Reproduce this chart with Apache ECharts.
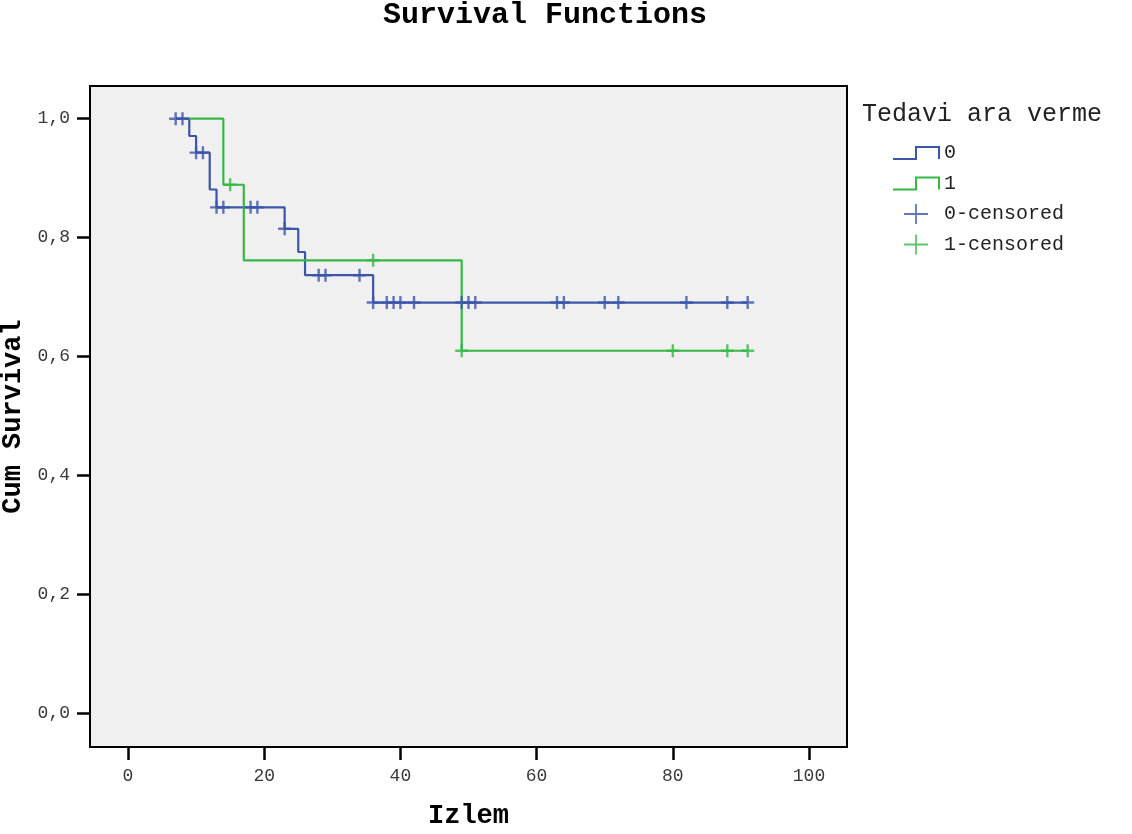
<!DOCTYPE html>
<html>
<head>
<meta charset="utf-8">
<title>Survival Functions</title>
<script src="https://cdn.jsdelivr.net/npm/echarts@6/dist/echarts.min.js"></script>
<style>
  html, body { margin: 0; padding: 0; background: #ffffff; }
  #chart { width: 1132px; height: 834px; }
</style>
</head>
<body>
<div id="chart"></div>
<script>
// Kaplan-Meier steps: time (Izlem) and cumulative survival for each group
const group0Times = [7, 9, 10, 12, 13, 23, 25, 26, 36, 91];
const group0Surv  = [1.0, 0.971, 0.943, 0.881, 0.851, 0.815, 0.776, 0.737, 0.691, 0.691];
const group1Times = [9, 14, 17, 49, 91];
const group1Surv  = [1.0, 0.889, 0.762, 0.610, 0.610];

// Censored observations (time, survival level at that time)
const censor0Times = [7, 8, 10, 11, 13, 14, 18, 19, 23, 28, 29, 34, 36, 38, 39, 40, 42, 49, 50, 51, 63, 64, 70, 72, 82, 88, 91];
const censor0Surv  = [1.0, 1.0, 0.943, 0.943, 0.851, 0.851, 0.851, 0.851, 0.815, 0.737, 0.737, 0.737,
                      0.691, 0.691, 0.691, 0.691, 0.691, 0.691, 0.691, 0.691, 0.691, 0.691, 0.691, 0.691, 0.691, 0.691, 0.691];
const censor1Times = [15, 36, 49, 80, 88, 91];
const censor1Surv  = [0.889, 0.762, 0.610, 0.610, 0.610, 0.610];

// Axis ticks
const xTicks = [0, 20, 40, 60, 80, 100];
const yTicks = [0, 0.2, 0.4, 0.6, 0.8, 1.0];

const seriesNames = ['0', '1', '0-censored', '1-censored'];
const blue = '#3b55a9';
const green = '#36b845';
const mono = "'Courier New', 'Liberation Mono', monospace";

const pairs = (xs, ys) => xs.map((x, i) => [x, ys[i]]);

// plus-sign marker for censored cases
const plusMark = 'path://M-1.2,-6.5 L1.2,-6.5 L1.2,-1.2 L6.5,-1.2 L6.5,1.2 L1.2,1.2 L1.2,6.5 L-1.2,6.5 L-1.2,1.2 L-6.5,1.2 L-6.5,-1.2 L-1.2,-1.2 Z';
const plusIcon = 'path://M-0.9,-10 L0.9,-10 L0.9,-0.9 L12,-0.9 L12,0.9 L0.9,0.9 L0.9,10 L-0.9,10 L-0.9,0.9 L-12,0.9 L-12,-0.9 L-0.9,-0.9 Z';
const stepIcon = 'path://M0,12 L23,12 L23,0 L46,0 L46,12';

const chart = echarts.init(document.getElementById('chart'), null, { renderer: 'canvas' });

chart.setOption({
  animation: false,
  backgroundColor: '#ffffff',
  title: [
    {
      text: 'Survival Functions',
      left: 383, top: 0, padding: 0,
      textStyle: { fontFamily: mono, fontSize: 30, fontWeight: 'bold', color: '#000' }
    },
    {
      text: 'Tedavi ara verme',
      left: 862, top: 102, padding: 0,
      textStyle: { fontFamily: mono, fontSize: 25, fontWeight: 'normal', color: '#222' }
    }
  ],
  legend: {
    orient: 'vertical',
    left: 892, top: 143, padding: 0,
    itemWidth: 46, itemHeight: 20, itemGap: 10.5,
    selectedMode: false,
    textStyle: { fontFamily: mono, fontSize: 20, color: '#222', padding: [5, 0, 0, 0] },
    data: [
      { name: seriesNames[0], icon: stepIcon, itemStyle: { color: 'transparent', borderColor: blue, borderWidth: 2 } },
      { name: seriesNames[1], icon: stepIcon, itemStyle: { color: 'transparent', borderColor: green, borderWidth: 2 } },
      { name: seriesNames[2], icon: plusIcon, itemStyle: { color: blue, borderWidth: 0 } },
      { name: seriesNames[3], icon: plusIcon, itemStyle: { color: green, borderWidth: 0 } }
    ]
  },
  grid: {
    left: 90, top: 86, width: 757, height: 661,
    show: true,
    backgroundColor: '#f0f0f0',
    borderColor: '#000',
    borderWidth: 2,
    containLabel: false,
    outerBoundsMode: 'none'
  },
  xAxis: {
    type: 'value',
    min: -5.58, max: 105.58,
    name: 'Izlem',
    nameLocation: 'middle',
    nameGap: 56,
    nameTextStyle: { fontFamily: mono, fontSize: 27, fontWeight: 'bold', color: '#000' },
    axisLine: { show: false, onZero: false },
    splitLine: { show: false },
    axisTick: { show: true, customValues: xTicks, length: 13, lineStyle: { color: '#000', width: 2.5 } },
    axisLabel: { customValues: xTicks, margin: 20, fontFamily: mono, fontSize: 18, color: '#3a3a3a' }
  },
  yAxis: {
    type: 'value',
    min: -0.056, max: 1.055,
    name: 'Cum Survival',
    nameLocation: 'middle',
    nameRotate: 90,
    nameGap: 49,
    nameTextStyle: { fontFamily: mono, fontSize: 27, fontWeight: 'bold', color: '#000' },
    axisLine: { show: false, onZero: false },
    splitLine: { show: false },
    axisTick: { show: true, customValues: yTicks, length: 13, lineStyle: { color: '#000', width: 2.5 } },
    axisLabel: {
      customValues: yTicks, margin: 20, fontFamily: mono, fontSize: 18, color: '#3a3a3a',
      formatter: v => v.toFixed(1).replace('.', ',')
    }
  },
  series: [
    {
      name: seriesNames[0], type: 'line', step: 'end', showSymbol: false, silent: true,
      data: pairs(group0Times, group0Surv),
      lineStyle: { color: blue, width: 2.2 }, itemStyle: { color: blue },
      emphasis: { disabled: true }, z: 2
    },
    {
      name: seriesNames[1], type: 'line', step: 'end', showSymbol: false, silent: true,
      data: pairs(group1Times, group1Surv),
      lineStyle: { color: green, width: 2.2 }, itemStyle: { color: green },
      emphasis: { disabled: true }, z: 3
    },
    {
      name: seriesNames[2], type: 'scatter', symbol: plusMark, symbolSize: 13, silent: true,
      data: pairs(censor0Times, censor0Surv),
      itemStyle: { color: blue }, emphasis: { disabled: true }, z: 4
    },
    {
      name: seriesNames[3], type: 'scatter', symbol: plusMark, symbolSize: 13, silent: true,
      data: pairs(censor1Times, censor1Surv),
      itemStyle: { color: green }, emphasis: { disabled: true }, z: 5
    }
  ]
});
</script>
</body>
</html>
